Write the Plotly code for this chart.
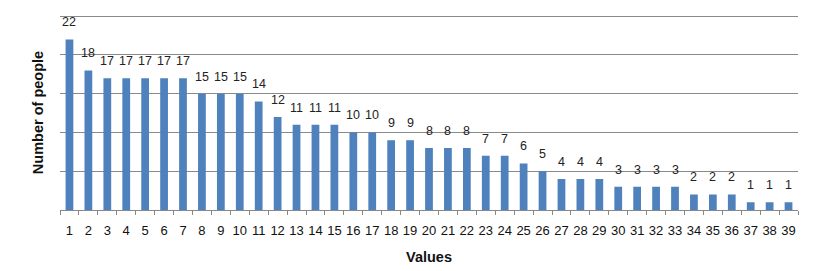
import plotly.graph_objects as go

categories = [str(i) for i in range(1, 40)]
counts = [22, 18, 17, 17, 17, 17, 17, 15, 15, 15, 14, 12, 11, 11, 11, 10, 10, 9, 9,
          8, 8, 8, 7, 7, 6, 5, 4, 4, 4, 3, 3, 3, 3, 2, 2, 2, 1, 1, 1]

fig = go.Figure(go.Bar(
    x=categories, y=counts,
    marker=dict(color="#4F81BD", line=dict(width=0)),
))

# annotations on a category axis take the category index as position
for i, v in enumerate(counts):
    fig.add_annotation(
        x=i, y=v, text=str(v), showarrow=False, yanchor="bottom",
        yshift=8, font=dict(family="Liberation Sans", size=12.5, color="#222"),
    )

# page body has an 8px margin, so the figure is offset by 8px
fig.update_layout(
    width=810, height=263,
    margin=dict(l=52, r=20, t=7, b=61, autoexpand=False),
    paper_bgcolor="white", plot_bgcolor="white",
    bargap=0.59,
    showlegend=False,
    font=dict(family="Liberation Sans", size=12, color="#111"),
    xaxis=dict(
        type="category", tickson="boundaries", ticks="outside", ticklen=4,
        tickcolor="#888", showline=True, linecolor="#888", linewidth=1,
        showgrid=False, ticklabelstandoff=8, tickangle=0, automargin=False,
        categoryorder="array", categoryarray=categories,
        tickfont=dict(family="Liberation Sans", size=13, color="#111"),
        title=dict(text="<b>Values</b>", standoff=15,
                   font=dict(family="Liberation Sans", size=14.5, color="#111")),
    ),
    yaxis=dict(
        range=[0, 25.15], dtick=5, showticklabels=False, showgrid=True,
        gridcolor="#8a8a8a", gridwidth=1, zeroline=False, showline=False,
        automargin=False,
        title=dict(text="<b>Number of people</b>", standoff=11,
                   font=dict(family="Liberation Sans", size=14.5, color="#111")),
    ),
)

fig.write_html("out.html")
